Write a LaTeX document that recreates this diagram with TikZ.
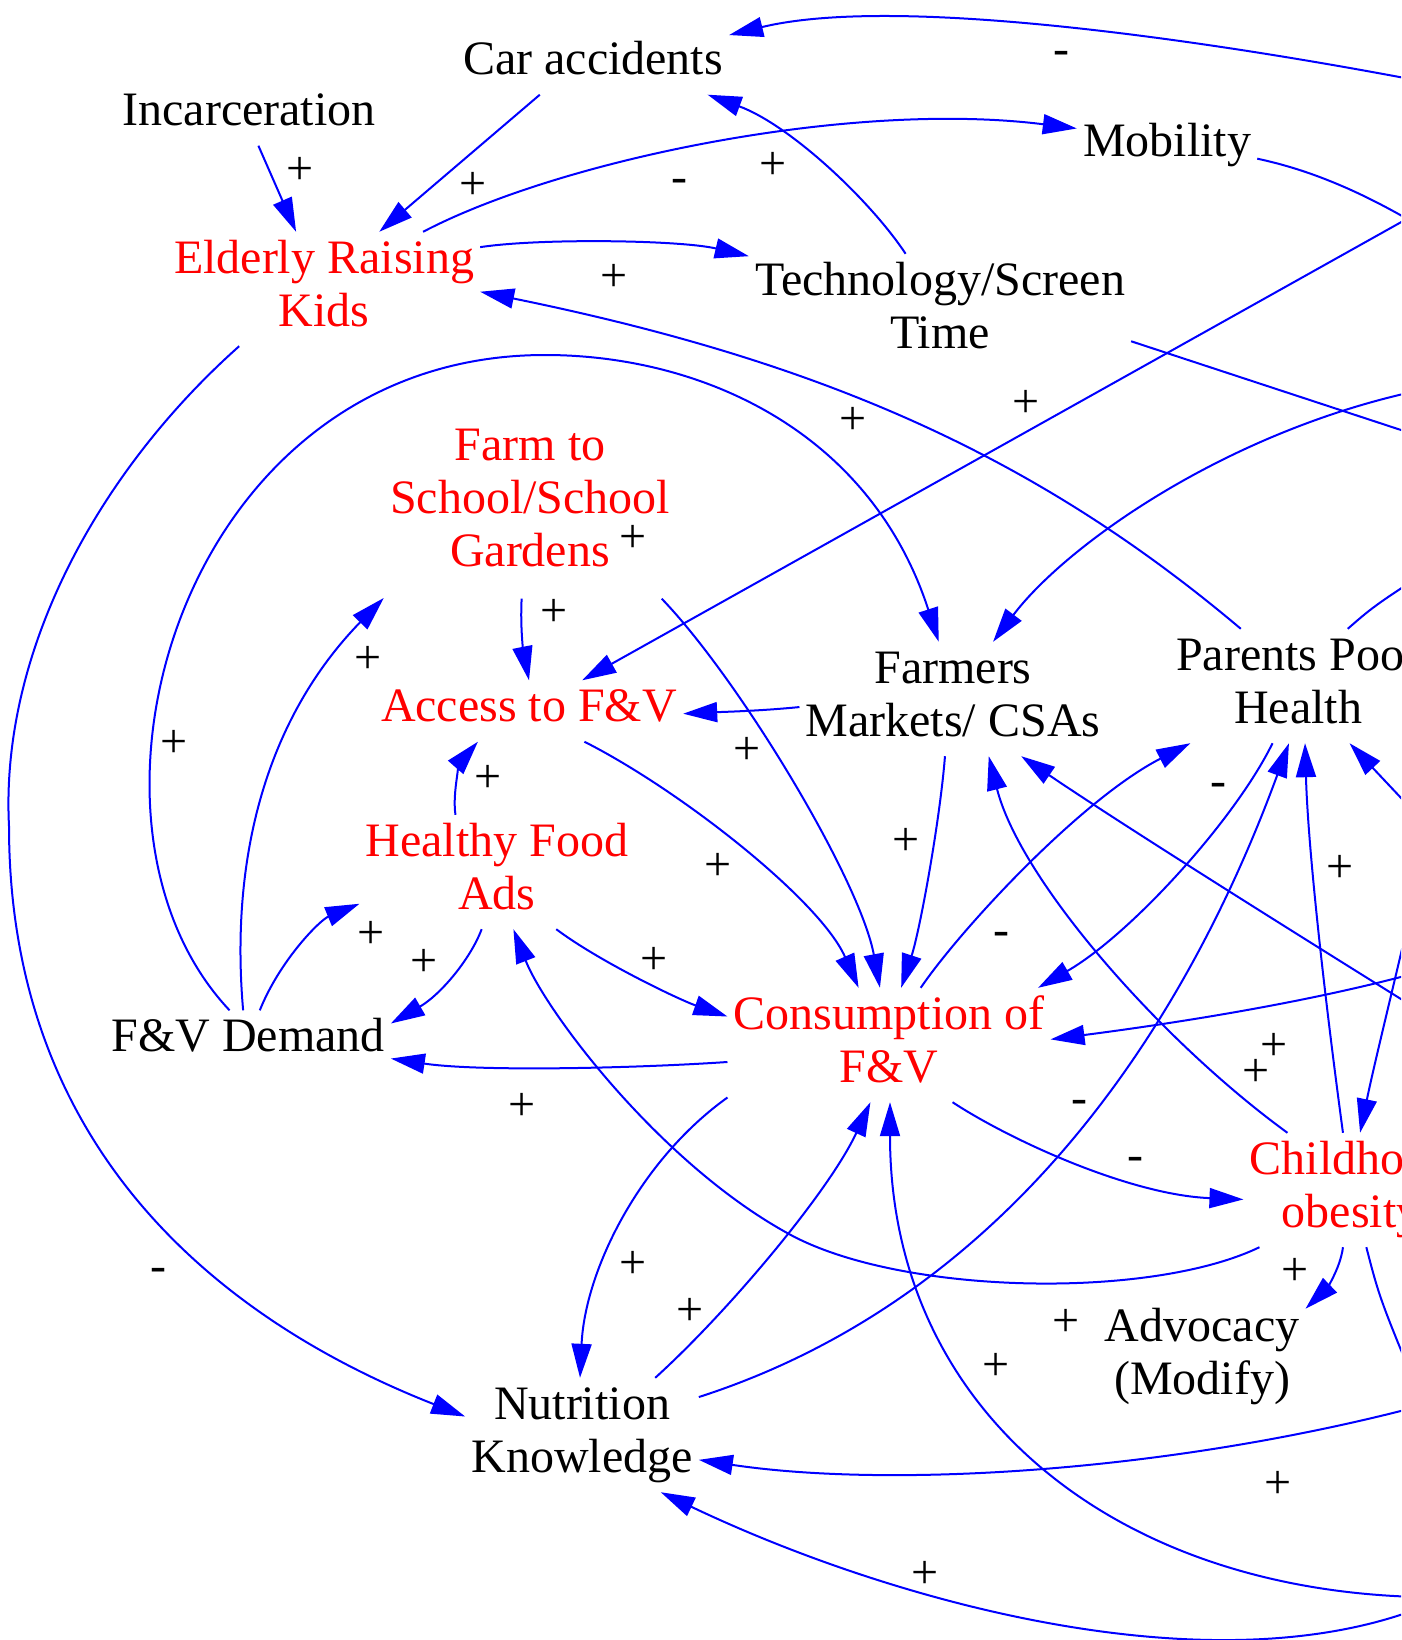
\documentclass[tikz,border=0pt]{standalone}
\usepackage{fontspec}
\setmainfont{Liberation Serif}
\usetikzlibrary{arrows.meta}
\newcommand\fsz{\fontsize{48}{53}\selectfont}
\begin{document}
\begin{tikzpicture}[x=1pt,y=-1pt,
  bnode/.style={inner xsep=6pt, inner ysep=4pt, align=center, font=\fsz, text=black},
  rnode/.style={bnode, text=red},
  lbl/.style={inner sep=0pt, font=\fsz, text=black},
  arr/.style={draw=blue, line width=2pt, -{Triangle[length=34pt,width=20pt]}},
  wire/.style={draw=blue, line width=2pt}]
\useasboundingbox (0,0) rectangle (1401,1640);
\fill[white] (0,0) rectangle (1401,1640);
\clip (0,0) rectangle (1401,1640);

% nodes
\node[bnode] (car) at (593,64) {\strut Car accidents};
\node[bnode] (incarceration) at (249,115) {\strut Incarceration};
\node[bnode] (mobility) at (1167,146) {\strut Mobility};
\node[rnode] (elderly) at (324,289) {\strut Elderly Raising\\\strut Kids};
\node[bnode] (tech) at (940,311) {\strut Technology/Screen\\\strut Time};
\node[rnode, inner ysep=16pt] (farm) at (530,503) {\strut Farm to\\\strut School/School\\\strut Gardens};
\node[rnode] (access) at (529,711) {\strut Access to F\&V};
\node[rnode] (healthy) at (497,872) {\strut Healthy Food\\\strut Ads};
\node[bnode] (demand) at (248,1041) {\strut F\&V Demand};
\node[bnode] (farmers) at (953,699) {\strut Farmers\\\strut Markets/ CSAs};
\node[bnode] (parents) at (1298,686) {\strut Parents Poor\\\strut Health};
\node[rnode] (consumption) at (889,1045) {\strut Consumption of\\\strut F\&V};
\node[rnode] (childhood) at (1351,1190) {\strut Childhood\\\strut obesity};
\node[bnode] (advocacy) at (1202,1357) {\strut Advocacy\\\strut (Modify)};
\node[bnode] (nutrition) at (582,1435) {\strut Nutrition\\\strut Knowledge};

% off-picture ends
\coordinate (offA) at (1410,79);
\coordinate (offB) at (1450,245);
\coordinate (offC) at (1480,178);
\coordinate (offD) at (1480,456);
\coordinate (offE) at (1460,383);
\coordinate (offF) at (1450,850);
\coordinate (offG) at (1460,550);
\coordinate (offH) at (1460,960);
\coordinate (offI) at (1470,1042);
\coordinate (offJ) at (1418,880);
\coordinate (offK) at (1430,1420);
\coordinate (offL) at (1460,1597);
\coordinate (offM) at (1460,1395);
\coordinate (offN) at (1460,1590);

% connectors
\draw[arr] (offA) .. controls (1230,45) and (902,-7) .. (car.12);
\draw[arr] (incarceration.-73) -- (elderly.116);
\draw[arr] (car.-150) -- (elderly.46);
\draw[arr] (elderly.30) .. controls (560,160) and (850,100) .. (mobility.169);
\draw[arr] (tech.121) .. controls (870,200) and (790,125) .. (car.-15);
\draw[arr] (elderly.15) .. controls (540,238) and (680,240) .. (tech.164);
\draw[arr] (parents.135) .. controls (1035,455) and (820,361) .. (elderly.-1);
\draw[wire] (mobility.-8) .. controls (1320,172) and (1380,200) .. (offB);
\draw[arr] (offC) -- (access.30);
\draw[wire] (tech.-9) -- (offD);
\draw[arr] (offE) .. controls (1250,415) and (1070,540) .. (farmers.55);
\draw[arr] (demand.121) .. controls (50,820) and (180,355) .. (545,355)
  .. controls (700,355) and (870,430) .. (farmers.104);
\draw[arr] (demand.99) .. controls (230,860) and (265,720) .. (farm.213);
\draw[arr] (demand.69) .. controls (280,960) and (320,920) .. (healthy.193);
\draw[arr] (healthy.255) .. controls (470,960) and (440,995) .. (demand.7);
\draw[arr] (farm.265) .. controls (520,630) and (524,655) .. (access.north);
\draw[arr] (farm.-36) .. controls (740,680) and (860,880) .. (consumption.99);
\draw[arr] (farmers.183) .. controls (760,711) and (720,712) .. (access.-1);
\draw[arr] (access.-29) .. controls (680,790) and (820,900) .. (consumption.118);
\draw[arr] (healthy.126) .. controls (452,790) and (462,760) .. (access.211);
\draw[arr] (healthy.-44) .. controls (600,962) and (680,1000) .. (consumption.170);
\draw[arr] (consumption.186) .. controls (640,1068) and (480,1072) .. (demand.-7);
\draw[arr] (farmers.262) .. controls (940,820) and (920,930) .. (consumption.78);
\draw[arr] (consumption.61) .. controls (960,930) and (1080,800) .. (parents.208);
\draw[arr] (parents.246) .. controls (1235,820) and (1130,935) .. (consumption.21);
\draw[arr] (nutrition.18) .. controls (1000,1300) and (1180,1040) .. (parents.261);
\draw[arr] (childhood.98) .. controls (1325,1000) and (1308,850) .. (parents.-83);
\draw[arr] (offF) -- (parents.-48);
\draw[wire] (parents.49) .. controls (1375,605) .. (offG);
\draw[arr] (offH) .. controls (1350,995) and (1200,1020) .. (consumption.2);
\draw[arr] (childhood.138) .. controls (1160,1040) and (1020,880) .. (farmers.-58);
\draw[arr] (offI) .. controls (1330,955) and (1130,830) .. (farmers.-40);
\draw[arr] (offJ) .. controls (1400,960) and (1375,1060) .. (childhood.81);
\draw[arr] (consumption.-42) .. controls (1010,1140) and (1130,1195) .. (childhood.185);
\draw[arr] (childhood.212) .. controls (1150,1300) and (900,1295) .. (789,1234)
  .. controls (659,1163) and (545,1010) .. (healthy.-74);
\draw[arr] (childhood.262) .. controls (1340,1270) and (1325,1290) .. (advocacy.25);
\draw[wire] (childhood.-75) .. controls (1380,1300) .. (offK);
\draw[arr] (consumption.198) .. controls (640,1160) and (585,1270) .. (nutrition.92);
\draw[arr] (nutrition.38) .. controls (730,1310) and (830,1190) .. (consumption.252);
\draw[arr] (offL) .. controls (1130,1605) and (890,1420) .. (consumption.-89);
\draw[arr] (offM) .. controls (1200,1470) and (900,1490) .. (nutrition.-12);
\draw[arr] (offN) .. controls (1250,1700) and (906,1609) .. (nutrition.-36);
\draw[arr] (elderly.214) .. controls (100,470) and (0,650) .. (9,826)
  .. controls (9,1150) and (220,1320) .. (nutrition.171);

% polarity labels
\node[lbl] (l1) at (1061,58) {-};
\node[lbl] (l2) at (300,171) {+};
\node[lbl] (l3) at (473,186) {+};
\node[lbl] (l4) at (679,186) {-};
\node[lbl] (l5) at (773,166) {+};
\node[lbl] (l6) at (614,278) {+};
\node[lbl] (l7) at (853,421) {+};
\node[lbl] (l8) at (1026,404) {+};
\node[lbl] (l9) at (633,539) {+};
\node[lbl] (l10) at (554,613) {+};
\node[lbl] (l11) at (368,660) {+};
\node[lbl] (l12) at (174,744) {+};
\node[lbl] (l13) at (747,751) {+};
\node[lbl] (l14) at (488,779) {+};
\node[lbl] (l15) at (1218,790) {-};
\node[lbl] (l16) at (906,842) {+};
\node[lbl] (l17) at (718,867) {+};
\node[lbl] (l18) at (1340,869) {+};
\node[lbl] (l19) at (1001,939) {-};
\node[lbl] (l20) at (371,935) {+};
\node[lbl] (l21) at (424,963) {+};
\node[lbl] (l22) at (654,961) {+};
\node[lbl] (l23) at (1274,1047) {+};
\node[lbl] (l24) at (1256,1073) {+};
\node[lbl] (l25) at (1079,1107) {-};
\node[lbl] (l26) at (522,1107) {+};
\node[lbl] (l27) at (1135,1164) {-};
\node[lbl] (l28) at (158,1275) {-};
\node[lbl] (l29) at (633,1265) {+};
\node[lbl] (l30) at (1295,1272) {+};
\node[lbl] (l31) at (690,1312) {+};
\node[lbl] (l32) at (1066,1323) {+};
\node[lbl] (l33) at (996,1367) {+};
\node[lbl] (l34) at (1278,1485) {+};
\node[lbl] (l35) at (925,1575) {+};
\end{tikzpicture}
\end{document}
